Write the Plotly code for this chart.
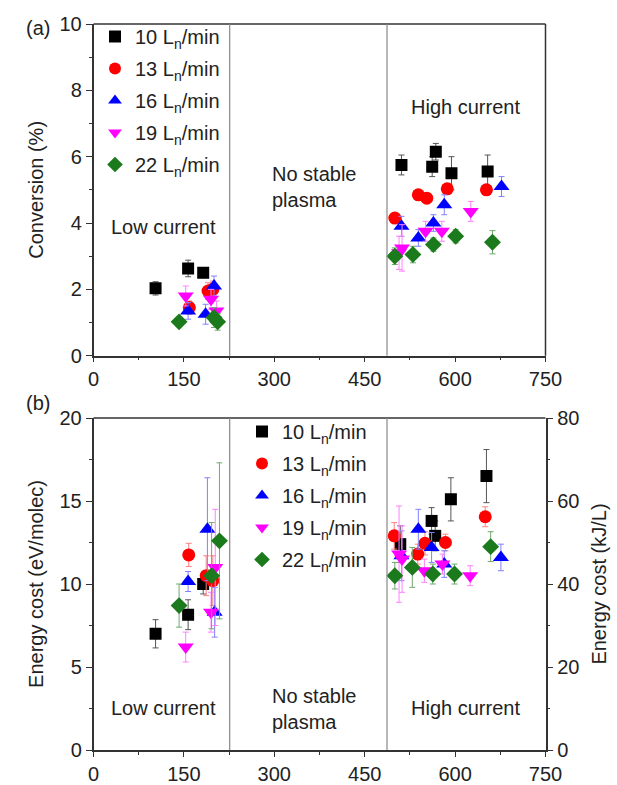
import plotly.graph_objects as go

# ---------------- data ----------------
series_names = ["10 L<sub>n</sub>/min", "13 L<sub>n</sub>/min", "16 L<sub>n</sub>/min",
                "19 L<sub>n</sub>/min", "22 L<sub>n</sub>/min"]

# (a) Conversion (%)
conv_x_10 = [103, 157, 182, 511, 562, 568, 594, 654]
conv_y_10 = [2.03, 2.63, 2.5, 5.75, 5.7, 6.15, 5.5, 5.55]
conv_e_10 = [0.2, 0.25, 0.15, 0.3, 0.3, 0.25, 0.5, 0.5]
conv_x_13 = [159, 190, 198, 500, 539, 553, 587, 652]
conv_y_13 = [1.45, 1.95, 2.0, 4.15, 4.85, 4.75, 5.03, 5.0]
conv_e_13 = [0.2, 0.25, 0.25, 0.15, 0.15, 0.15, 0.15, 0.15]
conv_x_16 = [157, 186, 200, 511, 539, 564, 582, 677]
conv_y_16 = [1.35, 1.25, 2.1, 3.9, 3.55, 4.0, 4.55, 5.1]
conv_e_16 = [0.25, 0.3, 0.3, 0.3, 0.25, 0.25, 0.3, 0.3]
conv_x_19 = [153, 195, 204, 507, 512, 551, 578, 626]
conv_y_19 = [1.8, 1.7, 1.35, 3.1, 3.25, 3.75, 3.75, 4.35]
conv_e_19 = [0.3, 0.3, 0.3, 0.5, 0.7, 0.3, 0.3, 0.3]
conv_x_22 = [142, 200, 206, 500, 530, 564, 601, 662]
conv_y_22 = [1.02, 1.15, 1.02, 3.0, 3.05, 3.35, 3.6, 3.42]
conv_e_22 = [0.1, 0.3, 0.25, 0.25, 0.25, 0.2, 0.2, 0.35]

# (b) Energy cost (eV/molec)
ec_x_10 = [103, 157, 182, 509, 561, 567, 593, 652]
ec_y_10 = [7.0, 8.15, 10.0, 12.4, 13.8, 12.9, 15.1, 16.5]
ec_e_10 = [0.85, 0.9, 0.6, 1.1, 0.8, 0.9, 1.3, 1.6]
ec_x_13 = [158, 187, 198, 499, 538, 550, 584, 650]
ec_y_13 = [11.75, 10.5, 10.2, 12.9, 11.8, 12.45, 12.5, 14.05]
ec_e_13 = [0.7, 1.2, 1.5, 0.8, 0.6, 0.7, 0.5, 0.6]
ec_x_16 = [157, 189, 201, 511, 539, 561, 582, 676]
ec_y_16 = [10.15, 13.3, 8.3, 11.7, 13.3, 12.2, 11.2, 11.6]
ec_e_16 = [0.6, 3.1, 1.5, 1.5, 1.2, 0.9, 0.8, 0.8]
ec_x_19 = [153, 195, 202, 507, 512, 549, 579, 625]
ec_y_19 = [6.2, 8.3, 11.0, 11.8, 11.5, 10.8, 11.2, 10.5]
ec_e_19 = [0.9, 1.2, 3.5, 2.9, 2.0, 0.7, 0.6, 0.6]
ec_x_22 = [142, 196, 209, 500, 529, 563, 599, 659]
ec_y_22 = [8.7, 10.5, 12.6, 10.5, 11.0, 10.6, 10.6, 12.25]
ec_e_22 = [1.3, 3.2, 4.7, 0.8, 1.2, 0.6, 0.6, 0.9]

region_bounds = [226, 487]
x_ticks = [0, 150, 300, 450, 600, 750]

# ---------------- style ----------------
W, H = 617, 785
colors = ["#000000", "#ff0000", "#0000ff", "#ff00ff", "#1b7a1b"]
err_colors = ["#555555", "#ff8080", "#8080ff", "#ff80ff", "#70a870"]
symbols = ["square", "circle", "triangle-up", "triangle-down", "diamond"]
sizes = [12, 13, 14, 14, 13]
FONT = "Liberation Sans, Arial, sans-serif"
FS = 20
TXT = "#222222"

conv_sets = [(conv_x_10, conv_y_10, conv_e_10), (conv_x_13, conv_y_13, conv_e_13),
             (conv_x_16, conv_y_16, conv_e_16), (conv_x_19, conv_y_19, conv_e_19),
             (conv_x_22, conv_y_22, conv_e_22)]
ec_sets = [(ec_x_10, ec_y_10, ec_e_10), (ec_x_13, ec_y_13, ec_e_13),
           (ec_x_16, ec_y_16, ec_e_16), (ec_x_19, ec_y_19, ec_e_19),
           (ec_x_22, ec_y_22, ec_e_22)]

fig = go.Figure()

for i, (xs, ys, es) in enumerate(conv_sets):
    fig.add_trace(go.Scatter(
        x=xs, y=ys, mode="markers", name=series_names[i],
        xaxis="x", yaxis="y", legend="legend", legendgroup="a%d" % i,
        marker=dict(symbol=symbols[i], size=sizes[i], color=colors[i], line=dict(width=0)),
        error_y=dict(type="data", array=es, color=err_colors[i], thickness=1, width=3),
    ))

for i, (xs, ys, es) in enumerate(ec_sets):
    fig.add_trace(go.Scatter(
        x=xs, y=ys, mode="markers", name=series_names[i],
        xaxis="x2", yaxis="y2", legend="legend2", legendgroup="b%d" % i,
        marker=dict(symbol=symbols[i], size=sizes[i], color=colors[i], line=dict(width=0)),
        error_y=dict(type="data", array=es, color=err_colors[i], thickness=1, width=3),
    ))

# invisible trace to hold the right axis
fig.add_trace(go.Scatter(x=[0], y=[0], xaxis="x2", yaxis="y3", mode="markers",
                         marker=dict(opacity=0), showlegend=False, hoverinfo="skip"))

xd = [93.5 / W, 545.5 / W]
top_dom = [1 - 355.7 / H, 1 - 24 / H]
bot_dom = [1 - 750 / H, 1 - 418 / H]


def minor(dt, t0=0):
    return dict(ticks="outside", ticklen=3, tickwidth=1, tickcolor="#333333", dtick=dt, tick0=t0)


axis_common = dict(
    showline=True, linecolor="#333333", linewidth=1.5, mirror=False,
    ticks="outside", tickwidth=1.3, tickcolor="#333333",
    showgrid=False, zeroline=False, automargin=False,
    tickfont=dict(family=FONT, size=FS, color=TXT),
)

fig.update_layout(
    template="none",
    width=W, height=H,
    margin=dict(l=0, r=0, t=0, b=0),
    paper_bgcolor="white", plot_bgcolor="white",
    font=dict(family=FONT, size=FS, color=TXT),
    xaxis=dict(domain=xd, anchor="y", range=[0, 750], tickvals=x_ticks, minor=minor(75),
               ticklen=5, **axis_common),
    yaxis=dict(domain=top_dom, anchor="x", range=[0, 10], dtick=2, minor=minor(1), ticklen=6,
               title=dict(text="Conversion (%)", font=dict(family=FONT, size=FS, color=TXT)),
               **axis_common),
    xaxis2=dict(domain=xd, anchor="y2", range=[0, 750], tickvals=x_ticks, minor=minor(75),
                ticklen=5, **axis_common),
    yaxis2=dict(domain=bot_dom, anchor="x2", range=[0, 20], dtick=5, minor=minor(2.5), ticklen=6,
                title=dict(text="Energy cost (eV/molec)", font=dict(family=FONT, size=FS, color=TXT)),
                **axis_common),
    yaxis3=dict(overlaying="y2", side="right", anchor="x2", range=[0, 80], dtick=20, minor=minor(10),
                ticklen=6,
                title=dict(text="Energy cost (kJ/L)", font=dict(family=FONT, size=FS, color=TXT)),
                **axis_common),
    legend=dict(x=95 / W, y=1 - 17 / H, xanchor="left", yanchor="top", bgcolor="rgba(0,0,0,0)",
                font=dict(family=FONT, size=FS, color=TXT), tracegroupgap=3, itemsizing="constant"),
    legend2=dict(x=242 / W, y=1 - 412 / H, xanchor="left", yanchor="top", bgcolor="rgba(0,0,0,0)",
                 font=dict(family=FONT, size=FS, color=TXT), tracegroupgap=3, itemsizing="constant"),
)

shapes = []
for xr, yr in (("x", "y domain"), ("x2", "y2 domain")):
    shapes.append(dict(type="line", xref="paper", yref=yr, x0=xd[0], x1=xd[1], y0=1, y1=1,
                       line=dict(color="#333333", width=1.5)))
    for b in region_bounds:
        shapes.append(dict(type="line", xref=xr, yref=yr, x0=b, x1=b, y0=0, y1=1,
                           line=dict(color="#888888", width=1.2)))
shapes.append(dict(type="line", xref="paper", yref="y domain", x0=xd[1], x1=xd[1], y0=0, y1=1,
                   line=dict(color="#333333", width=1.5)))
fig.update_layout(shapes=shapes)

txtfont = dict(family=FONT, size=FS, color=TXT)
ann = [
    dict(text="(a)", xref="paper", yref="paper", x=24 / W, y=1 - 15 / H, showarrow=False, font=txtfont),
    dict(text="(b)", xref="paper", yref="paper", x=24 / W, y=1 - 403 / H, showarrow=False, font=txtfont),
    dict(text="Low current", xref="x", yref="y", x=116, y=3.89, showarrow=False, font=txtfont),
    dict(text="No stable<br>plasma", xref="x", yref="y", x=367, y=5.1, showarrow=False,
         font=txtfont, align="left"),
    dict(text="High current", xref="x", yref="y", x=618, y=7.51, showarrow=False, font=txtfont),
    dict(text="Low current", xref="x2", yref="y2", x=116, y=2.51, showarrow=False, font=txtfont),
    dict(text="No stable<br>plasma", xref="x2", yref="y2", x=367, y=2.47, showarrow=False,
         font=txtfont, align="left"),
    dict(text="High current", xref="x2", yref="y2", x=618, y=2.51, showarrow=False, font=txtfont),
]
fig.update_layout(annotations=ann)

fig.write_html("out.html")
